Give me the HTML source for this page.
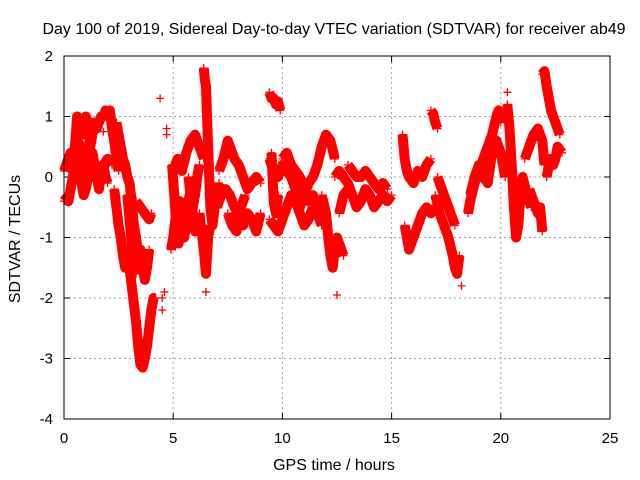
<!DOCTYPE html>
<html><head><meta charset="utf-8"><style>
body{margin:0;background:#fff;}
svg{display:block;font-family:"Liberation Sans",sans-serif;}
</style></head><body>
<svg id="chart" width="640" height="480" xmlns="http://www.w3.org/2000/svg">
<rect x="0" y="0" width="640" height="480" fill="#fff"/>
<text x="334" y="34" font-size="16" text-anchor="middle">Day 100 of 2019, Sidereal Day-to-day VTEC variation (SDTVAR) for receiver ab49</text>
<g id="grid"></g>
<g id="ticks"></g>
<g id="bands"></g>
<g id="marks"></g>
<rect x="64" y="56" width="546" height="363" fill="none" stroke="#000" stroke-width="1"/>
<text x="334" y="470" font-size="16" text-anchor="middle">GPS time / hours</text>
<text x="0" y="0" font-size="16" text-anchor="middle" transform="translate(20,239) rotate(-90)">SDTVAR / TECUs</text>
</svg>
<script>
const xTicks=[0,5,10,15,20,25];
const yTicks=[2,1,0,-1,-2,-3,-4];
const tracks=[
[[0,0.1],[0.1,0.2],[0.2,0.3],[0.3,0.4],[0.4,0.2],[0.5,0.5],[0.6,1.0],[0.7,0.9],[0.8,0.7],[0.9,0.8],[1.0,1.0],[1.1,0.9],[1.2,0.5],[1.3,0.7],[1.4,0.9],[1.5,0.8],[1.6,0.9],[1.7,1.0],[1.8,1.0],[1.9,1.1],[2.0,1.05],[2.1,1.1],[2.2,0.8],[2.3,0.6],[2.4,0.3],[2.5,0.1]],
[[0,-0.4],[0.1,-0.35],[0.2,-0.4],[0.3,-0.2],[0.4,0.0],[0.5,0.2],[0.6,0.4],[0.7,0.3],[0.8,-0.1],[0.9,-0.3],[1.0,-0.2],[1.1,0.0],[1.2,0.3],[1.3,0.4],[1.4,0.2],[1.5,0.0],[1.6,-0.2],[1.7,0.1],[1.8,0.2],[1.9,0.0],[2.0,-0.1]],
[[0.6,0.6],[0.8,0.5],[1.0,0.3],[1.2,0.1],[1.4,0.1],[1.6,0.1],[1.8,0.2],[2.0,0.3],[2.2,0.2]],
[[2.3,-0.2],[2.4,-0.5],[2.5,-0.8],[2.6,-1.0],[2.7,-1.3],[2.8,-1.5],[2.9,-1.2],[3.0,-1.5],[3.1,-1.8],[3.2,-2.1],[3.3,-2.4],[3.4,-2.8],[3.5,-3.1],[3.6,-3.15],[3.7,-3.0],[3.8,-2.8],[3.9,-2.5],[4.0,-2.2],[4.1,-2.0],[4.2,-2.0]],
[[2.4,0.9],[2.5,0.7],[2.6,0.5],[2.7,0.3],[2.8,0.2],[2.9,0.0],[3.0,-0.1],[3.1,-0.4],[3.2,-0.8],[3.3,-1.0],[3.4,-1.3],[3.5,-1.2],[3.6,-1.5],[3.7,-1.7],[3.8,-1.5],[3.9,-1.2]],
[[2.9,-0.3],[3.0,-0.7],[3.1,-1.1],[3.2,-1.4],[3.3,-1.6]],
[[3.3,-0.4],[3.5,-0.5],[3.7,-0.6],[3.9,-0.7],[4.0,-0.6]],
[[4.9,-1.2],[5.0,-1.0],[5.1,-0.7],[5.2,-0.5],[5.3,-0.4],[5.4,-0.6],[5.5,-1.0],[5.6,-0.8],[5.7,-0.4],[5.8,-0.2],[5.9,-0.5],[6.0,-0.3],[6.1,0.0],[6.2,0.2]],
[[4.95,0.2],[5.05,-0.3],[5.15,-0.9],[5.25,-1.1],[5.35,-0.8]],
[[5.0,0.1],[5.2,0.3],[5.4,0.1],[5.6,0.4],[5.8,0.6],[6.0,0.7],[6.2,0.5],[6.4,0.3]],
[[5.7,0.0],[5.8,-0.3],[5.9,-0.6],[6.0,-0.9],[6.1,-0.7]],
[[6.4,1.8],[6.45,1.6],[6.5,1.5],[6.55,1.0],[6.6,0.5],[6.65,0.0],[6.7,-0.5],[6.8,-0.8],[6.9,-0.5],[7.0,-0.3],[7.1,-0.1]],
[[6.2,-0.6],[6.3,-0.9],[6.4,-1.2],[6.5,-1.6],[6.6,-1.0],[6.7,-0.8]],
[[7.1,0.1],[7.3,0.3],[7.5,0.6],[7.6,0.5],[7.8,0.3],[8.0,0.2],[8.2,0.0],[8.4,-0.2],[8.6,-0.1],[8.8,0.0],[9.0,-0.1]],
[[7.0,-0.5],[7.2,-0.3],[7.4,-0.2],[7.6,-0.3],[7.8,-0.5],[8.0,-0.6],[8.2,-0.8],[8.4,-0.6],[8.6,-0.7],[8.8,-0.9],[9.0,-0.6]],
[[7.5,-0.6],[7.7,-0.8],[7.9,-0.9],[8.1,-0.5],[8.3,-0.3]],
[[9.4,1.4],[9.5,1.3],[9.6,1.3],[9.7,1.2],[9.8,1.25],[9.9,1.1]],
[[9.5,0.4],[9.55,0.0],[9.6,-0.4],[9.7,-0.6],[9.8,-0.3]],
[[9.4,0.3],[9.6,0.1],[9.8,0.0],[10.0,0.2],[10.2,0.1],[10.4,0.0],[10.6,-0.2],[10.8,-0.5],[11.0,-0.3],[11.2,-0.1],[11.4,0.0],[11.6,0.2],[11.8,0.5],[12.0,0.7],[12.2,0.6],[12.4,0.3]],
[[9.4,-0.7],[9.6,-0.8],[9.8,-0.9],[10.0,-0.7],[10.2,-0.5],[10.4,-0.3],[10.6,-0.4],[10.8,-0.6],[11.0,-0.8],[11.2,-0.7],[11.4,-0.5]],
[[10.0,0.3],[10.2,0.4],[10.4,0.2],[10.6,0.1],[10.8,0.0],[11.0,-0.2],[11.2,-0.4],[11.4,-0.3],[11.6,-0.6],[11.8,-0.8]],
[[11.8,-0.3],[12.0,-0.6],[12.1,-1.0],[12.2,-1.3],[12.3,-1.5],[12.4,-1.2],[12.5,-1.0],[12.6,-1.1],[12.8,-1.3]],
[[12.6,-0.6],[12.8,-0.3],[13.0,-0.2]],
[[12.4,0.0],[12.6,0.1],[12.8,0.0],[13.0,-0.1],[13.2,-0.3],[13.4,-0.5],[13.6,-0.4],[13.8,-0.2],[14.0,-0.3],[14.2,-0.5],[14.4,-0.4],[14.6,-0.3],[14.8,-0.4],[15.0,-0.3]],
[[13.0,0.2],[13.2,0.1],[13.4,0.0],[13.6,0.0],[13.8,0.1],[14.0,0.0],[14.2,-0.1],[14.4,-0.2],[14.6,-0.1],[14.8,-0.2]],
[[15.5,0.7],[15.6,0.3],[15.7,0.1],[15.8,0.0],[16.0,-0.1],[16.2,0.1],[16.4,0.0],[16.6,0.2],[16.8,0.3]],
[[15.6,-0.8],[15.7,-1.0],[15.8,-1.2],[15.9,-1.1],[16.0,-1.0],[16.2,-0.8],[16.4,-0.6],[16.6,-0.5],[16.8,-0.6],[17.0,-0.5]],
[[16.8,1.1],[16.9,1.05],[17.0,0.9],[17.1,0.8]],
[[17.0,-0.3],[17.2,-0.6],[17.4,-0.8],[17.6,-1.0],[17.8,-1.3],[17.9,-1.5],[18.0,-1.6],[18.1,-1.3]],
[[17.1,0.0],[17.3,-0.2],[17.5,-0.4],[17.7,-0.6],[17.9,-0.8]],
[[18.5,-0.6],[18.6,-0.4],[18.8,-0.1],[19.0,0.1],[19.2,0.3],[19.4,0.5],[19.6,0.7],[19.8,1.0],[19.9,1.1],[20.0,0.9]],
[[18.6,-0.3],[18.8,0.0],[19.0,0.2],[19.2,0.0],[19.4,-0.1],[19.6,0.4],[19.8,0.6],[20.0,0.4],[20.2,0.0]],
[[20.3,1.2],[20.4,0.8],[20.5,0.2],[20.6,-0.5],[20.7,-1.0],[20.8,-0.8],[20.9,-0.3],[21.0,0.0],[21.2,-0.3],[21.4,-0.5]],
[[21.1,0.3],[21.3,0.5],[21.5,0.7],[21.7,0.8],[21.9,0.6],[22.0,0.2]],
[[21.3,-0.2],[21.5,-0.4],[21.7,-0.6],[21.8,-0.5],[21.9,-0.9]],
[[21.9,1.7],[22.0,1.75],[22.1,1.5],[22.2,1.3],[22.3,1.1],[22.4,1.0],[22.5,0.9],[22.6,0.8],[22.7,0.7]],
[[22.1,0.0],[22.2,0.2],[22.3,0.3],[22.4,0.2],[22.5,0.3],[22.6,0.5],[22.8,0.4]]
];
const singles=[[4.4,1.3],[4.5,-2.0],[4.5,-2.2],[4.6,-1.9],[12.5,-1.95],[18.2,-1.8],[6.5,-1.9],[1.8,0.75],[4.7,0.8],[4.7,0.7],[20.3,1.4],[9.8,-0.3]];
const NS='http://www.w3.org/2000/svg';
const X0=64,X1=610,Y0=419,Y1=56;
function sx(t){return X0+(t-0)/(25-0)*(X1-X0);}
function sy(v){return Y0-(v+4)/(2+4)*(Y0-Y1);}
const grid=document.getElementById('grid'),ticks=document.getElementById('ticks'),marks=document.getElementById('marks'),bands=document.getElementById('bands');
function mk(tag,attrs,parent){const e=document.createElementNS(NS,tag);for(const k in attrs)e.setAttribute(k,attrs[k]);parent.appendChild(e);return e;}
xTicks.forEach(t=>{
  const x=sx(t);
  if(t>0&&t<25){const g=mk('line',{x1:x,x2:x,y1:Y0,y2:Y1,stroke:'#a0a0a0','stroke-dasharray':'2,3'},grid);
  
  }
  mk('line',{x1:x,x2:x,y1:Y0,y2:Y0-6,stroke:'#000'},ticks);
  mk('line',{x1:x,x2:x,y1:Y1,y2:Y1+6,stroke:'#000'},ticks);
  const l=mk('text',{x:x,y:Y0+24,'font-size':15,'text-anchor':'middle'},ticks);
  l.textContent=t;
  
  
});
yTicks.forEach(v=>{
  const y=sy(v);
  if(v>-4&&v<2){const g=mk('line',{x1:X0,x2:X1,y1:y,y2:y,stroke:'#a0a0a0','stroke-dasharray':'2,3'},grid);
  
  }
  mk('line',{x1:X0,x2:X0+6,y1:y,y2:y,stroke:'#000'},ticks);
  mk('line',{x1:X1,x2:X1-6,y1:y,y2:y,stroke:'#000'},ticks);
  const l=mk('text',{x:53,y:y+5,'font-size':15,'text-anchor':'end'},ticks);
  l.textContent=v;
  
  
});
function plus(p){
  const x=sx(p[0]),y=sy(p[1]);
  const m=mk('path',{d:`M${x-4},${y}H${x+4}M${x},${y-4}V${y+4}`,stroke:'#f00','stroke-width':1.3,fill:'none'},marks);
  
  
}
tracks.forEach(tr=>{
  const pl=mk('polyline',{points:tr.map(p=>sx(p[0])+','+sy(p[1])).join(' '),stroke:'#f00','stroke-width':10,fill:'none','stroke-linejoin':'round','stroke-linecap':'butt'},bands);
  
  
  tr.forEach(plus);
});
singles.forEach(plus);
</script>
</body></html>
